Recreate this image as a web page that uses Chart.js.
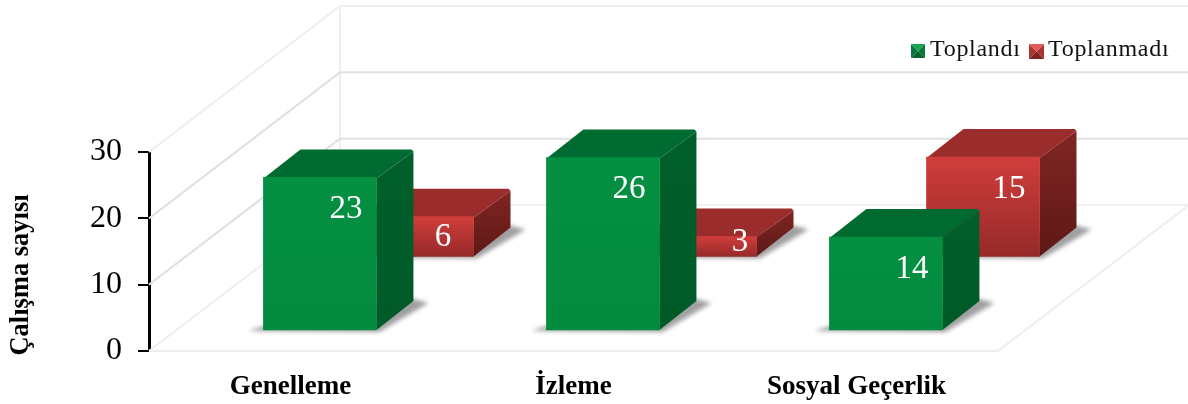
<!DOCTYPE html>
<html lang="tr">
<head>
<meta charset="utf-8">
<title>Çalışma sayısı</title>
<script src="https://cdn.jsdelivr.net/npm/chart.js@4/dist/chart.umd.min.js"></script>
<style>
  html, body { margin: 0; padding: 0; background: #fff; }
  #wrap { width: 1188px; height: 404px; }
</style>
</head>
<body>
<div id="wrap"><canvas id="grafico" width="1188" height="404"></canvas></div>
<script>
// Dados
const categorias = ['Genelleme', 'İzleme', 'Sosyal Geçerlik'];
const toplandi = [23, 26, 14];
const toplanmadi = [6, 3, 15];
const ticksY = [0, 10, 20, 30];

// Profundidade do "3D" em pixels
const paredeDx = 191, paredeDy = -146;
const barraDx = 37, barraDy = -28;

const serif = '"Liberation Serif", serif';

function paraPontos(valores) {
  return valores.map((y, x) => ({ x, y }));
}

// Gradiente vertical da face frontal de cada barra
function gradienteFrente(cores) {
  return (c) => {
    if (!c.parsed) return cores[0];
    const esc = c.chart.scales[c.dataset.yAxisID];
    const topo = esc ? esc.getPixelForValue(c.parsed.y) : NaN;
    const base = esc ? esc.getPixelForValue(0) : NaN;
    if (!Number.isFinite(topo) || !Number.isFinite(base)) return cores[0];
    const g = c.chart.ctx.createLinearGradient(0, topo, 0, base);
    g.addColorStop(0, cores[0]);
    g.addColorStop(1, cores[1]);
    return g;
  };
}

function poligono(ctx, pts, cor) {
  ctx.beginPath();
  pts.forEach((p, i) => (i ? ctx.lineTo(p[0], p[1]) : ctx.moveTo(p[0], p[1])));
  ctx.closePath();
  ctx.fillStyle = cor;
  ctx.fill();
}

function linha(ctx, x1, y1, x2, y2, cor, w) {
  ctx.beginPath();
  ctx.moveTo(x1, y1);
  ctx.lineTo(x2, y2);
  ctx.strokeStyle = cor;
  ctx.lineWidth = w;
  ctx.stroke();
}

// Paredes e chão desenhados a partir da escala Y
const paredes = {
  id: 'paredes',
  beforeDatasetsDraw(chart) {
    const { ctx, chartArea: a, scales } = chart;
    ctx.save();
    const yZero = scales.y.getPixelForValue(0);
    linha(ctx, a.left + paredeDx, yZero + paredeDy, a.left + paredeDx, scales.y.getPixelForValue(30) + paredeDy, '#eeeeee', 2);
    ticksY.forEach((v) => {
      const y = scales.y.getPixelForValue(v);
      const cor = v === 0 || v === 30 ? '#eeeeee' : '#e0e0e0';
      linha(ctx, a.left, y, a.left + paredeDx, y + paredeDy, cor, 2);
      linha(ctx, a.left + paredeDx, y + paredeDy, a.right + paredeDx, y + paredeDy, v === 0 ? '#f1f1f1' : cor, 2);
    });
    linha(ctx, a.left, yZero, a.right, yZero, '#eeeeee', 2);
    linha(ctx, a.right, yZero, a.right + paredeDx, yZero + paredeDy, '#eeeeee', 2);
    ctx.restore();
  },
};

// Sombra, topo e lateral de cada barra; a frente é a própria barra do Chart.js
const barras3d = {
  id: 'barras3d',
  beforeDatasetDraw(chart, args) {
    const { ctx } = chart;
    const estilo = chart.data.datasets[args.index].estilo3d;
    args.meta.data.forEach((bar) => {
      const esq = bar.x - bar.width / 2;
      const dir = bar.x + bar.width / 2;
      const topo = bar.y;
      const base = bar.base;

      ctx.save();
      ctx.filter = 'blur(2px)';
      poligono(ctx, [
        [esq - 15, base + 1],
        [dir + 3, base + 2],
        [dir + barraDx + 15, base + barraDy + 1],
        [dir + barraDx, base + barraDy - 3],
        [esq, base - 4],
      ], '#a0a0a0');
      ctx.restore();

      ctx.save();
      poligono(ctx, [
        [esq, topo + 1],
        [esq + barraDx, topo + barraDy],
        [dir + barraDx - 2, topo + barraDy],
        [dir + barraDx, topo + barraDy + 2],
        [dir, topo + 1],
      ], estilo.topo);
      const lat = ctx.createLinearGradient(0, topo + barraDy, 0, base);
      lat.addColorStop(0, estilo.lado[0]);
      lat.addColorStop(1, estilo.lado[1]);
      poligono(ctx, [
        [dir, topo + 1],
        [dir + barraDx, topo + barraDy + 2],
        [dir + barraDx, base + barraDy - 1],
        [dir, base],
      ], lat);
      ctx.restore();
    });
  },
  afterDatasetsDraw(chart) {
    const { ctx } = chart;
    ctx.save();
    ctx.font = '33px ' + serif;
    ctx.fillStyle = '#ffffff';
    ctx.textAlign = 'center';
    ctx.textBaseline = 'middle';
    chart.data.datasets.forEach((ds, i) => {
      chart.getDatasetMeta(i).data.forEach((bar, j) => {
        const altura = bar.base - bar.y;
        const curta = altura < 30;
        const x = bar.x + 26 + (curta ? 14 : 0);
        const y = curta ? bar.y + 6 : Math.min(bar.y + 32, bar.y + altura / 2 + 1);
        ctx.fillText(String(ds.data[j].y), x, y);
      });
    });
    ctx.restore();
  },
};

// Legenda com quadradinhos em relevo
function quadradinho(ctx, x, y, t, cores) {
  const c = [x + t / 2, y + t / 2];
  poligono(ctx, [[x, y], [x, y + t], c], cores[1]);
  poligono(ctx, [[x + t, y], [x + t, y + t], c], cores[1]);
  poligono(ctx, [[x, y + t], [x + t, y + t], c], cores[2]);
  poligono(ctx, [[x, y], [x + t, y], c], cores[0]);
}

function textoLegenda(ctx, texto, x, y) {
  ctx.fillStyle = '#111111';
  ctx.fillText(texto, x, y);
}

const legenda = {
  id: 'legenda',
  afterDraw(chart) {
    const { ctx } = chart;
    ctx.save();
    ctx.font = '24px ' + serif;
    ctx.letterSpacing = '0.7px';
    ctx.textBaseline = 'middle';
    ctx.textAlign = 'left';
    quadradinho(ctx, 911, 44, 14, ['#19a556', '#067a39', '#04632e']);
    textoLegenda(ctx, 'Toplandı', 930, 50);
    quadradinho(ctx, 1029, 44, 15, ['#e25a58', '#a93432', '#7c2422']);
    textoLegenda(ctx, 'Toplanmadı', 1048, 50);
    ctx.restore();
  },
};

// Título do eixo Y
const tituloY = {
  id: 'tituloY',
  afterDraw(chart) {
    const { ctx } = chart;
    ctx.save();
    ctx.translate(21, 275);
    ctx.rotate(-Math.PI / 2);
    ctx.font = 'bold 26.5px ' + serif;
    ctx.fillStyle = '#000000';
    ctx.textAlign = 'center';
    ctx.textBaseline = 'middle';
    ctx.fillText('Çalışma sayısı', 0, 0);
    ctx.restore();
  },
};

const larguraBarra = 113;

new Chart(document.getElementById('grafico'), {
  type: 'bar',
  data: {
    labels: categorias,
    datasets: [
      {
        label: 'Toplandı',
        data: paraPontos(toplandi),
        xAxisID: 'xVerde',
        yAxisID: 'yVerde',
        order: 1,
        clip: false,
        grouped: false,
        barThickness: larguraBarra,
        backgroundColor: gradienteFrente(['#048f41', '#028b3e']),
        estilo3d: { topo: '#006b30', lado: ['#005f2a', '#005a27'] },
      },
      {
        label: 'Toplanmadı',
        data: paraPontos(toplanmadi),
        xAxisID: 'xVermelho',
        yAxisID: 'yVermelho',
        order: 2,
        clip: false,
        grouped: false,
        barThickness: larguraBarra,
        backgroundColor: gradienteFrente(['#d03d3b', '#962a29']),
        estilo3d: { topo: '#9a2d2b', lado: ['#812624', '#5e1816'] },
      },
    ],
  },
  options: {
    responsive: false,
    animation: false,
    layout: { padding: { top: 152, right: 190, left: 0, bottom: 0 } },
    plugins: {
      legend: { display: false },
      tooltip: { enabled: false },
    },
    scales: {
      x: {
        type: 'category',
        afterFit(s) { s.height = 53; },
        grid: { display: false },
        border: { display: false },
        ticks: { color: '#000000', padding: 12, maxRotation: 0, font: { family: serif, size: 27, weight: 'bold' } },
      },
      y: {
        min: 0,
        max: 30,
        afterFit(s) { s.width = 149; },
        afterBuildTicks(s) { s.ticks = ticksY.map((value) => ({ value })); },
        grid: { drawOnChartArea: false, color: '#000000', lineWidth: 2, tickLength: 11 },
        border: { color: '#000000', width: 3 },
        ticks: { color: '#000000', padding: 16, font: { family: serif, size: 32 } },
      },
      // Eixos ocultos que deslocam as duas séries no chão
      xVerde: { type: 'linear', display: false, offset: false, min: -0.604, max: 2.396 },
      xVermelho: { type: 'linear', display: false, offset: false, min: -0.947, max: 2.053 },
      yVerde: { display: false, min: -3.17, max: 26.83 },
      yVermelho: { display: false, min: -14.25, max: 15.75 },
    },
  },
  plugins: [paredes, barras3d, legenda, tituloY],
});
</script>
</body>
</html>
